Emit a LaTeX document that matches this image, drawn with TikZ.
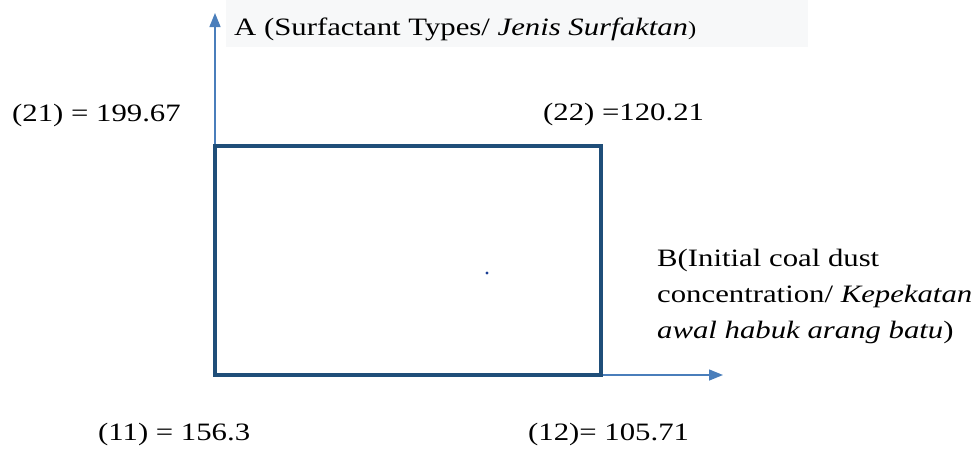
\documentclass[tikz,border=0pt]{standalone}
\usepackage{fontspec}
\setmainfont{Liberation Serif}[FakeStretch=1.23]
\usetikzlibrary{arrows.meta}
\definecolor{boxblue}{RGB}{31,78,121}
\definecolor{axisblue}{RGB}{74,126,187}
\definecolor{labelbg}{RGB}{247,248,249}
\tikzset{
  axis/.style={draw=axisblue, line width=1.4pt, -{Triangle[length=14pt,width=11pt]}},
  lbl/.style={inner sep=0pt, anchor=base west, font=\fontsize{25}{36}\selectfont},
}
\begin{document}
\begin{tikzpicture}[x=1pt,y=-1pt]
\useasboundingbox (0,0) rectangle (977,448);
\fill[labelbg] (226,0) rectangle (808,47);
\coordinate (ytip) at (215,13);
\coordinate (xtip) at (723,375);
\node (box) [draw=boxblue, line width=4pt, outer sep=0pt, minimum width=386pt, minimum height=229pt, inner sep=0pt, anchor=north west] at (215,146) {};
\draw[axis] (box.south west) -- (ytip);
\draw[axis] (box.south west) -- (xtip);
\draw[draw=boxblue, line width=4pt] (box.south west) rectangle (box.north east);
\fill[boxblue!80!blue] (487,273) circle (1.6pt);
\node (a) [lbl] at (234,35) {A (Surfactant Types/ \textit{Jenis Surfaktan}{\fontsize{20}{24}\selectfont)}};
\node (b) [lbl, anchor=north west, align=left] at (657,249) {B(Initial coal dust\\concentration/ \textit{Kepekatan}\\\textit{awal habuk arang batu})};
\node (v21) [lbl] at (12,121) {(21) = 199.67};
\node (v22) [lbl] at (543,120) {(22) =120.21};
\node (v11) [lbl] at (98,440) {(11) = 156.3};
\node (v12) [lbl] at (528,440) {(12)= 105.71};
\end{tikzpicture}
\end{document}
